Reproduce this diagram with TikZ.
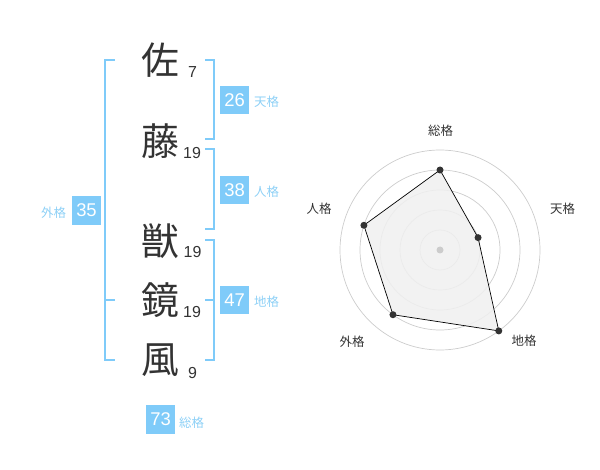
\documentclass[tikz,border=0pt]{standalone}
\usepackage{fontspec}
\setmainfont{Liberation Sans}
\newfontfamily\jp{Noto Sans CJK JP}
\definecolor{skyb}{HTML}{7FCBF9}
\definecolor{skyt}{HTML}{8DD0F6}
\definecolor{ink}{HTML}{333333}
\definecolor{ringc}{HTML}{CCCCCC}
\definecolor{areaf}{HTML}{F0F0F0}
\tikzset{
  kanji/.style={font=\jp\fontsize{38}{38}\selectfont, text=ink, inner sep=0pt},
  strokes/.style={font=\fontsize{16}{16}\selectfont, text=ink, inner sep=0pt},
  valbox/.style={fill=skyb, text=white, minimum width=29bp, minimum height=28.5bp, inner sep=0pt, font=\fontsize{18.5}{18.5}\selectfont},
  kaku/.style={font=\jp\fontsize{12.5}{12.5}\selectfont, text=skyt, inner sep=0pt},
  brk/.style={draw=skyb, line width=2bp},
  ring/.style={draw=ringc, line width=0.7bp},
  axlab/.style={font=\jp\fontsize{12.5}{12.5}\selectfont, text=ink, inner sep=0pt},
  dotp/.style={fill=ink, draw=none},
}
\begin{document}
\begin{tikzpicture}[x=1bp,y=-1bp]
\useasboundingbox (0,0) rectangle (600,470);
% characters
\node[kanji] (c1) at (160,60) {佐};
\node[kanji] (c2) at (160,141) {藤};
\node[kanji] (c3) at (160,241) {獣};
\node[kanji] (c4) at (160,300) {鏡};
\node[kanji] (c5) at (160,360) {風};
\node[strokes] (n1) at (192.5,72.5) {7};
\node[strokes] (n2) at (192,153.5) {19};
\node[strokes] (n3) at (192.5,252.5) {19};
\node[strokes] (n4) at (192,312.5) {19};
\node[strokes] (n5) at (192.5,373.5) {9};
% brackets
\coordinate (tA) at (205,60); \coordinate (tB) at (214,60);
\coordinate (tC) at (214,139); \coordinate (tD) at (205,139);
\draw[brk] (tA) -- (tB) -- (tC) -- (tD);
\coordinate (jA) at (205,149.5); \coordinate (jB) at (214,149.5);
\coordinate (jC) at (214,229.5); \coordinate (jD) at (205,229.5);
\draw[brk] (jA) -- (jB) -- (jC) -- (jD);
\coordinate (cA) at (205,240); \coordinate (cB) at (214,240);
\coordinate (cC) at (214,359.5); \coordinate (cD) at (205,359.5);
\coordinate (cM) at (205,300); \coordinate (cN) at (214,300);
\draw[brk] (cA) -- (cB) -- (cC) -- (cD);
\draw[brk] (cM) -- (cN);
\coordinate (gA) at (115,60); \coordinate (gB) at (105,60);
\coordinate (gC) at (105,359.5); \coordinate (gD) at (115,359.5);
\coordinate (gM) at (115,299.5); \coordinate (gN) at (105,299.5);
\draw[brk] (gA) -- (gB) -- (gC) -- (gD);
\draw[brk] (gM) -- (gN);
% value boxes
\node[valbox] (v1) at (234.5,100) {26};
\node[kaku] (k1) at (266.5,101.5) {天格};
\node[valbox] (v2) at (234.5,190) {38};
\node[kaku] (k2) at (266.5,191.5) {人格};
\node[valbox] (v3) at (234.5,300) {47};
\node[kaku] (k3) at (266.5,301.5) {地格};
\node[valbox] (v4) at (86.5,210.5) {35};
\node[kaku] (k4) at (53.5,212.5) {外格};
\node[valbox] (v5) at (160.5,419.5) {73};
\node[kaku] (k5) at (191.5,423) {総格};
% radar
\begin{scope}[shift={(440,250)}]
  \coordinate (O) at (0,0);
  \foreach \r in {20,40,60,80,100} \draw[ring] (O) circle[radius=\r bp];
  \coordinate (p1) at (90:80bp);
  \coordinate (p2) at (18:40bp);
  \coordinate (p3) at (-54:100bp);
  \coordinate (p4) at (-126:80bp);
  \coordinate (p5) at (162:80bp);
  \fill[areaf, opacity=0.85] (p1) -- (p2) -- (p3) -- (p4) -- (p5) -- cycle;
  \draw[black, line width=0.7bp] (p1) -- (p2) -- (p3) -- (p4) -- (p5) -- cycle;
  \fill[ringc] (O) circle[radius=3.5bp];
  \foreach \p in {p1,p2,p3,p4,p5} \fill[dotp] (\p) circle[radius=3.5bp];
\end{scope}
\node[axlab] (a1) at (440.5,130.5) {総格};
\node[axlab] (a2) at (562.5,208.5) {天格};
\node[axlab] (a3) at (524,341) {地格};
\node[axlab] (a4) at (352,341.5) {外格};
\node[axlab] (a5) at (319,208.5) {人格};
\end{tikzpicture}
\end{document}
